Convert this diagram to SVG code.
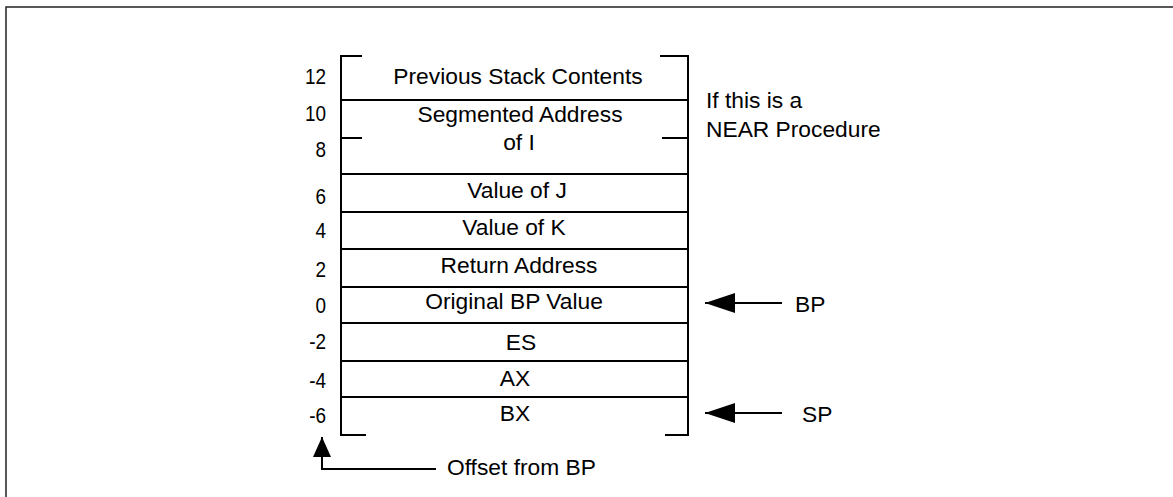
<svg xmlns="http://www.w3.org/2000/svg" width="1173" height="497" viewBox="0 0 1173 497">
  <style>
    .t { font-family: "Liberation Sans", Arial, sans-serif; font-size: 22px; fill: #000; }
    .c { text-anchor: middle; }
    .e { text-anchor: end; }
    .ln { stroke: #000; stroke-width: 2; fill: none; }
    .frame { stroke: #222; stroke-width: 1.5; fill: none; }
  </style>
  <defs>
    <marker id="head-lg" viewBox="0 0 30 20" refX="30" refY="10" markerWidth="30" markerHeight="20" markerUnits="userSpaceOnUse" orient="auto">
      <path d="M0,0 L30,10 L0,20 Z" fill="#000"/>
    </marker>
    <marker id="head-sm" viewBox="0 0 20 18" refX="20" refY="9" markerWidth="20" markerHeight="18" markerUnits="userSpaceOnUse" orient="auto">
      <path d="M0,0 L20,9 L0,18 Z" fill="#000"/>
    </marker>
  </defs>
  <rect width="1173" height="497" fill="#fff"/>
  <rect class="frame" x="6" y="7" width="1200" height="520"/>

  <g id="stack-frame">
    <path class="ln" d="M362,56 H341 V435 H366"/>
    <path class="ln" d="M660,56 H688 V435 H665"/>
    <path class="ln" d="M341,138 H362 M662,138 H688"/>
  </g>

  <g id="offsets">
    <text class="t e" transform="translate(326,84) scale(0.86,1)">12</text>
    <text class="t e" transform="translate(326,121) scale(0.86,1)">10</text>
    <text class="t e" transform="translate(326,157) scale(0.86,1)">8</text>
    <text class="t e" transform="translate(326,204) scale(0.86,1)">6</text>
    <text class="t e" transform="translate(326,238) scale(0.86,1)">4</text>
    <text class="t e" transform="translate(326,277) scale(0.86,1)">2</text>
    <text class="t e" transform="translate(326,313) scale(0.86,1)">0</text>
    <text class="t e" transform="translate(326,349) scale(0.86,1)">-2</text>
    <text class="t e" transform="translate(326,388) scale(0.86,1)">-4</text>
    <text class="t e" transform="translate(326,423) scale(0.86,1)">-6</text>
  </g>

  <g id="cell-previous">
    <text class="t c" transform="translate(518,84) scale(1.036,1)">Previous Stack Contents</text>
  </g>
  <g id="cell-segmented">
    <line class="ln" x1="341" y1="100" x2="688" y2="100"/>
    <text class="t c" transform="translate(520,122) scale(1.036,1)">Segmented Address</text>
    <text class="t c" transform="translate(519,150) scale(1.036,1)">of I</text>
  </g>
  <g id="cell-j">
    <line class="ln" x1="341" y1="174" x2="688" y2="174"/>
    <text class="t c" transform="translate(517,198) scale(1.036,1)">Value of J</text>
  </g>
  <g id="cell-k">
    <line class="ln" x1="341" y1="212" x2="688" y2="212"/>
    <text class="t c" transform="translate(514,235) scale(1.036,1)">Value of K</text>
  </g>
  <g id="cell-return">
    <line class="ln" x1="341" y1="249" x2="688" y2="249"/>
    <text class="t c" transform="translate(519,273) scale(1.036,1)">Return Address</text>
  </g>
  <g id="cell-bp">
    <line class="ln" x1="341" y1="287" x2="688" y2="287"/>
    <text class="t c" transform="translate(514,309) scale(1.036,1)">Original BP Value</text>
  </g>
  <g id="cell-es">
    <line class="ln" x1="341" y1="323" x2="688" y2="323"/>
    <text class="t c" transform="translate(521,350) scale(1.036,1)">ES</text>
  </g>
  <g id="cell-ax">
    <line class="ln" x1="341" y1="361" x2="688" y2="361"/>
    <text class="t c" transform="translate(515,386) scale(1.036,1)">AX</text>
  </g>
  <g id="cell-bx">
    <line class="ln" x1="341" y1="397" x2="688" y2="397"/>
    <text class="t c" transform="translate(515,421) scale(1.036,1)">BX</text>
  </g>

  <g id="note-near">
    <text class="t" transform="translate(706,108) scale(1.036,1)">If this is a</text>
    <text class="t" transform="translate(706,137) scale(1.036,1)">NEAR Procedure</text>
  </g>
  <g id="label-bp">
    <text class="t" transform="translate(795,312) scale(1.036,1)">BP</text>
  </g>
  <g id="label-sp">
    <text class="t" transform="translate(802,422) scale(1.036,1)">SP</text>
  </g>
  <g id="label-offset">
    <text class="t" transform="translate(447,475) scale(1.036,1)">Offset from BP</text>
  </g>

  <g id="connectors">
    <path class="ln" d="M782,303 H705" marker-end="url(#head-lg)"/>
    <path class="ln" d="M782,413 H705" marker-end="url(#head-lg)"/>
    <path class="ln" d="M436,469 H322 V437" marker-end="url(#head-sm)"/>
  </g>
</svg>
